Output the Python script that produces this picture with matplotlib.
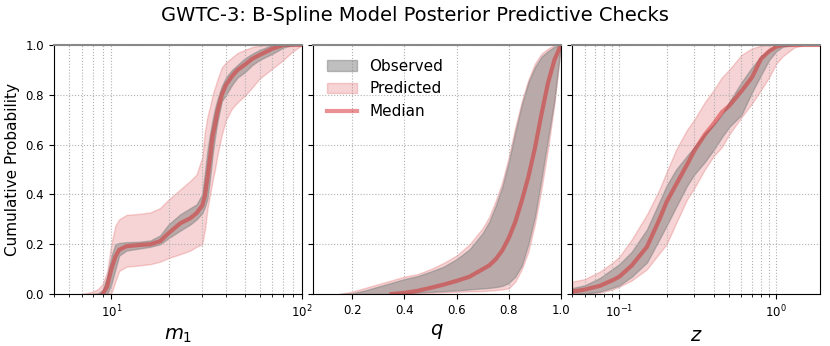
import matplotlib
matplotlib.use('Agg')
import matplotlib.pyplot as plt
import numpy as np

nan = np.nan

# --- m1 panel (log x) ---
m1_grid = [7, 8, 8.5, 9, 9.5, 10, 10.5, 11, 12, 14, 16, 18, 20, 23, 26, 28, 30, 31, 32, 33, 34, 35, 36, 38, 40, 43, 46, 50, 55, 60, 70, 80, 90, 100]
m1_pred_lo = [0, 0, 0, 0, 0, 0.003, 0.05, 0.093, 0.11, 0.115, 0.12, 0.13, 0.145, 0.16, 0.175, 0.19, 0.20, 0.26, 0.345, 0.40, 0.455, 0.50, 0.555, 0.64, 0.70, 0.745, 0.77, 0.795, 0.83, 0.865, 0.905, 0.94, 0.975, 1.0]
m1_pred_hi = [0, 0.01, 0.02, 0.04, 0.09, 0.20, 0.275, 0.30, 0.318, 0.322, 0.328, 0.345, 0.38, 0.42, 0.455, 0.48, 0.55, 0.655, 0.715, 0.755, 0.80, 0.83, 0.86, 0.91, 0.93, 0.95, 0.968, 0.98, 0.992, 0.998, 1.0, 1.0, 1.0, 1.0]
m1_obs_lo = [0, 0, 0, 0, 0, 0.04, 0.10, 0.155, 0.175, 0.183, 0.19, 0.20, 0.225, 0.255, 0.28, 0.30, 0.325, 0.35, 0.385, 0.47, 0.56, 0.63, 0.69, 0.775, 0.80, 0.84, 0.87, 0.89, 0.92, 0.94, 0.965, 0.99, 1.0, 1.0]
m1_obs_hi = [0, 0, 0.003, 0.015, 0.07, 0.15, 0.20, 0.205, 0.208, 0.21, 0.215, 0.235, 0.28, 0.32, 0.345, 0.36, 0.40, 0.49, 0.58, 0.645, 0.70, 0.745, 0.78, 0.835, 0.87, 0.90, 0.92, 0.945, 0.965, 0.98, 1.0, 1.0, 1.0, 1.0]
m1_median = [nan, nan, nan, 0, 0.03, 0.10, 0.15, 0.178, 0.192, 0.197, 0.20, 0.212, 0.245, 0.284, 0.305, 0.325, 0.355, 0.395, 0.47, 0.55, 0.635, 0.68, 0.73, 0.80, 0.84, 0.875, 0.90, 0.92, 0.945, 0.96, 0.985, 1.0, 1.0, 1.0]

# --- q panel (linear x) ---
q_grid = [0.15, 0.2, 0.25, 0.3, 0.35, 0.4, 0.45, 0.5, 0.55, 0.6, 0.65, 0.7, 0.725, 0.75, 0.775, 0.8, 0.825, 0.85, 0.875, 0.9, 0.925, 0.95, 0.975, 1.0]
q_pred_lo = [0, 0, 0, 0, 0, 0.002, 0.004, 0.005, 0.007, 0.009, 0.011, 0.012, 0.014, 0.016, 0.019, 0.023, 0.05, 0.10, 0.17, 0.28, 0.42, 0.58, 0.765, 1.0]
q_pred_hi = [0, 0.01, 0.025, 0.04, 0.055, 0.07, 0.08, 0.10, 0.125, 0.155, 0.20, 0.265, 0.31, 0.375, 0.45, 0.55, 0.67, 0.775, 0.86, 0.925, 0.965, 0.985, 1.0, 1.0]
q_obs_lo = [0, 0, 0, 0, 0, 0.003, 0.006, 0.009, 0.012, 0.015, 0.019, 0.023, 0.025, 0.028, 0.033, 0.045, 0.07, 0.115, 0.20, 0.31, 0.46, 0.62, 0.78, 1.0]
q_obs_hi = [0, 0.003, 0.015, 0.03, 0.045, 0.06, 0.072, 0.09, 0.11, 0.14, 0.18, 0.245, 0.29, 0.355, 0.43, 0.53, 0.65, 0.76, 0.85, 0.91, 0.953, 0.975, 0.993, 1.0]
q_median = [nan, nan, nan, nan, 0, 0.005, 0.013, 0.025, 0.038, 0.053, 0.07, 0.10, 0.115, 0.14, 0.175, 0.225, 0.29, 0.375, 0.47, 0.585, 0.72, 0.846, 0.94, 1.0]

# --- z panel (log x) ---
z_grid = [0.05, 0.06, 0.075, 0.09, 0.1, 0.12, 0.15, 0.18, 0.2, 0.23, 0.27, 0.3, 0.35, 0.4, 0.45, 0.5, 0.6, 0.7, 0.8, 0.9, 1.0, 1.1, 1.3, 1.5, 1.9]
z_pred_lo = [0, 0.001, 0.006, 0.018, 0.03, 0.055, 0.10, 0.164, 0.20, 0.285, 0.38, 0.425, 0.50, 0.555, 0.59, 0.64, 0.71, 0.765, 0.82, 0.87, 0.925, 0.955, 0.99, 1.0, 1.0]
z_pred_hi = [0.05, 0.06, 0.09, 0.125, 0.15, 0.22, 0.32, 0.42, 0.49, 0.58, 0.66, 0.70, 0.77, 0.82, 0.87, 0.90, 0.96, 0.987, 0.997, 1.0, 1.0, 1.0, 1.0, 1.0, 1.0]
z_obs_lo = [0, 0.002, 0.01, 0.025, 0.035, 0.07, 0.127, 0.22, 0.275, 0.35, 0.435, 0.48, 0.53, 0.58, 0.63, 0.67, 0.72, 0.81, 0.88, 0.94, 0.975, 0.993, 1.0, 1.0, 1.0]
z_obs_hi = [0.024, 0.035, 0.064, 0.10, 0.12, 0.17, 0.26, 0.37, 0.435, 0.50, 0.555, 0.59, 0.645, 0.68, 0.72, 0.77, 0.85, 0.91, 0.955, 0.983, 1.0, 1.0, 1.0, 1.0, 1.0]
z_median = [0.01, 0.018, 0.033, 0.055, 0.07, 0.115, 0.19, 0.30, 0.37, 0.44, 0.52, 0.575, 0.64, 0.685, 0.73, 0.755, 0.815, 0.87, 0.945, 0.975, 0.993, 1.0, 1.0, 1.0, 1.0]

panels = [
    (m1_grid, m1_pred_lo, m1_pred_hi, m1_obs_lo, m1_obs_hi, m1_median, r'$m_1$', 'log', (5, 100)),
    (q_grid, q_pred_lo, q_pred_hi, q_obs_lo, q_obs_hi, q_median, r'$q$', 'linear', (0.05, 1.0)),
    (z_grid, z_pred_lo, z_pred_hi, z_obs_lo, z_obs_hi, z_median, r'$z$', 'log', (0.05, 1.9)),
]

PRED_COLOR = '#d62728'
OBS_COLOR = 'gray'

fig, axes = plt.subplots(1, 3, figsize=(8.3, 3.46), dpi=100, sharey=True)
fig.subplots_adjust(left=0.065, right=0.988, bottom=0.150, top=0.870, wspace=0.045)

for ax, p in zip(axes, panels):
    x, plo, phi, olo, ohi, med, xlabel, scale, xlim = p
    ax.fill_between(x, plo, phi, color=PRED_COLOR, alpha=0.2, lw=1, label='Predicted')
    ax.fill_between(x, olo, ohi, color=OBS_COLOR, alpha=0.5, lw=1, label='Observed')
    ax.plot(x, med, color=PRED_COLOR, alpha=0.5, lw=3, label='Median')
    ax.set_xscale(scale)
    ax.set_xlim(*xlim)
    ax.set_ylim(0, 1)
    ax.set_xlabel(xlabel, fontsize=14)
    ax.grid(which='both', linestyle=':', color='#b0b0b0', lw=0.8)
    ax.tick_params(labelsize=8.5)
    ax.spines['top'].set_color('#888888')
    ax.spines['top'].set_linewidth(1.5)
    if scale == 'linear':
        ax.set_xticks([0.2, 0.4, 0.6, 0.8, 1.0])

axes[0].set_ylabel('Cumulative Probability', fontsize=11)
axes[0].set_yticks([0, 0.2, 0.4, 0.6, 0.8, 1.0])

h, l = axes[1].get_legend_handles_labels()
order = [1, 0, 2]
axes[1].legend([h[k] for k in order], [l[k] for k in order], loc='upper left',
               frameon=False, fontsize=11)

fig.suptitle('GWTC-3: B-Spline Model Posterior Predictive Checks', fontsize=14, y=0.955, va='center')

fig.savefig('out.png', dpi=100)
